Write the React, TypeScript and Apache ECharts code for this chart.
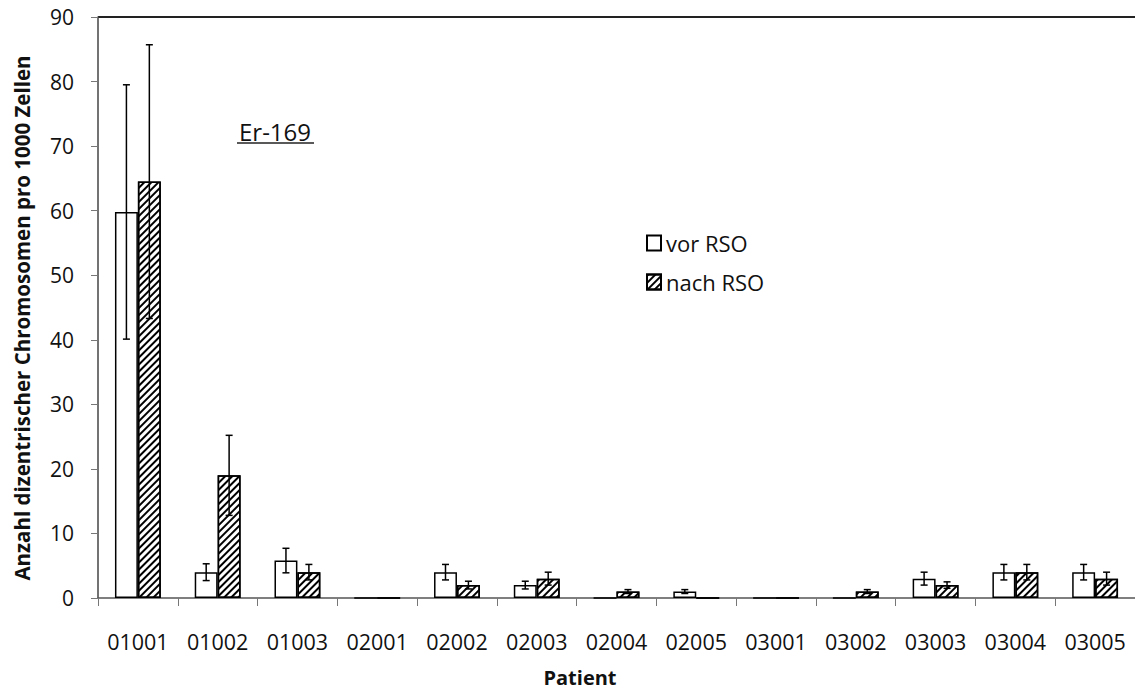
import React, { useEffect, useRef } from "react";
import * as echarts from "echarts";

const categories = ["01001", "01002", "01003", "02001", "02002", "02003", "02004", "02005", "03001", "03002", "03003", "03004", "03005"];
const vorValues = [59.8, 4, 5.8, 0, 4, 2, 0, 1, 0, 0, 3, 4, 4];
const vorErrors = [19.7, 1.3, 1.9, 0, 1.2, 0.6, 0, 0.3, 0, 0, 1, 1.2, 1.2];
const nachValues = [64.5, 19, 4, 0, 2, 3, 1, 0, 0, 1, 2, 4, 3];
const nachErrors = [21.2, 6.2, 1.2, 0, 0.6, 1, 0.3, 0, 0, 0.3, 0.5, 1.2, 1];
const yTicks = { min: 0, max: 90, interval: 10 };

const FONT = "'Open Sans', sans-serif";

export default function App() {
  const ref = useRef<HTMLDivElement>(null);
  useEffect(() => {
    const chart = echarts.init(ref.current!, null, { renderer: "svg" });
    const barFrac = 0.2875;
    const errSeries = (vals: number[], errs: number[], side: number) => ({
      type: "custom",
      silent: true,
      z: 10,
      data: vals.map((v, i) => [i, v - errs[i], v + errs[i], errs[i]]),
      renderItem: (params: any, api: any) => {
        if (api.value(3) === 0) return null;
        const band = api.size([1, 0])[0];
        const off = side * band * barFrac / 2;
        const lo = api.coord([api.value(0), api.value(1)]);
        const hi = api.coord([api.value(0), api.value(2)]);
        const x = lo[0] + off;
        const cap = 3.5;
        const style = { stroke: "#000", lineWidth: 1.5 };
        return {
          type: "group",
          children: [
            { type: "line", shape: { x1: x, y1: lo[1], x2: x, y2: hi[1] }, style },
            { type: "line", shape: { x1: x - cap, y1: hi[1], x2: x + cap, y2: hi[1] }, style },
            { type: "line", shape: { x1: x - cap, y1: lo[1], x2: x + cap, y2: lo[1] }, style },
          ],
        };
      },
    });
    chart.setOption({
      animation: false,
      textStyle: { fontFamily: FONT },
      grid: { left: 98, top: 17, width: 1040, height: 581, show: false },
      legend: {
        orient: "vertical",
        left: 641,
        top: 227,
        itemGap: 17,
        itemWidth: 14,
        itemHeight: 15,
        icon: "rect",
        data: ["vor RSO", "nach RSO"],
        textStyle: { fontSize: 22, color: "#111", fontFamily: FONT, padding: [0, 0, 0, 0] },
      },
      xAxis: {
        type: "category",
        data: categories,
        axisLine: { lineStyle: { color: "#555", width: 1.5 } },
        axisTick: { show: true, length: 8, lineStyle: { color: "#777" } },
        axisLabel: { interval: 0, hideOverlap: false, fontSize: 21.5, color: "#111", margin: 32, fontFamily: FONT },
      },
      yAxis: {
        type: "value",
        position: "left",
        min: yTicks.min,
        max: yTicks.max,
        interval: yTicks.interval,
        splitLine: { show: false },
        axisLine: { show: true, lineStyle: { color: "#444", width: 1.5 } },
        axisTick: { show: true, length: 7, lineStyle: { color: "#777" } },
        axisLabel: { fontSize: 21, color: "#111", margin: 24, fontFamily: FONT },
      },
      series: [
        {
          name: "vor RSO",
          type: "bar",
          data: vorValues,
          barGap: "0%",
          barCategoryGap: "42.5%",
          itemStyle: { color: "#fff", borderColor: "#000", borderWidth: 1.5 },
        },
        {
          name: "nach RSO",
          type: "bar",
          data: nachValues,
          itemStyle: {
            color: "#fff",
            borderColor: "#000",
            borderWidth: 1.5,
            decal: {
              symbol: "rect",
              symbolSize: 1,
              color: "#000",
              backgroundColor: "#fff",
              dashArrayX: [1, 0],
              dashArrayY: [1.5, 2.5],
              rotation: -Math.PI / 4,
            },
          },
        },
        errSeries(vorValues, vorErrors, -1),
        errSeries(nachValues, nachErrors, 1),
      ],
      graphic: [
        { type: "line", shape: { x1: 98, y1: 17, x2: 1135, y2: 17 }, style: { stroke: "#222", lineWidth: 2 } },
        {
          type: "text",
          x: 275,
          y: 131,
          style: { text: "Er-169", fontSize: 24, fill: "#111", fontFamily: FONT, align: "center", verticalAlign: "middle" },
        },
        { type: "line", shape: { x1: 237, y1: 143, x2: 314, y2: 143 }, style: { stroke: "#222", lineWidth: 1.5 } },
        {
          type: "text",
          x: 580,
          y: 677,
          style: { text: "Patient", fontSize: 20, fontWeight: "bold", fill: "#111", fontFamily: FONT, align: "center", verticalAlign: "middle" },
        },
        {
          type: "text",
          x: 22,
          y: 318,
          rotation: Math.PI / 2,
          style: { text: "Anzahl dizentrischer Chromosomen pro 1000 Zellen", fontSize: 20.5, fontWeight: "bold", fill: "#111", fontFamily: FONT, align: "center", verticalAlign: "middle" },
        },
      ],
    });
    return () => chart.dispose();
  }, []);
  return <div ref={ref} style={{ position: "fixed", left: 0, top: 0, width: 1135, height: 691, background: "#fff", overflow: "hidden" }} />;
}
